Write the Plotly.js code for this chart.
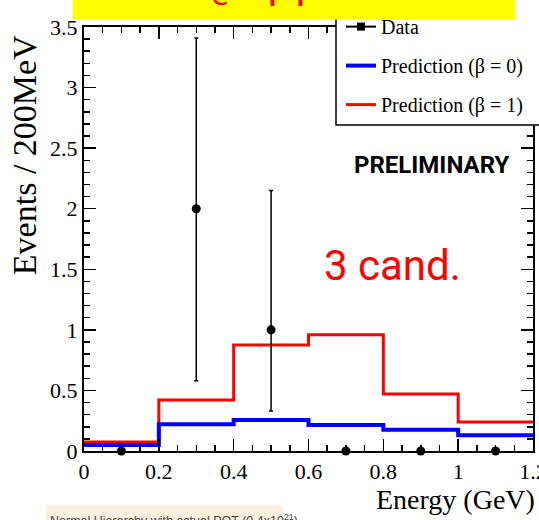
<!DOCTYPE html>
<html><head><meta charset="utf-8">
<script src="https://cdn.plot.ly/plotly-3.0.1.min.js"></script>
<style>html,body{margin:0;padding:0;background:#fff;overflow:hidden;} #chart{width:539px;height:520px;}</style>
</head><body><div id="chart"></div>
<script>
// ---- data ----
const binEdges = [0, 0.2, 0.4, 0.6, 0.8, 1.0, 1.2];
const predBeta0 = [0.05, 0.22, 0.255, 0.215, 0.175, 0.13];
const predBeta1 = [0.075, 0.42, 0.875, 0.96, 0.47, 0.24];
const dataX = [0.1, 0.3, 0.5, 0.7, 0.9, 1.1];
const dataY = [0, 2, 1, 0, 0, 0];
const dataHigh = [null, 3.41, 2.15, null, null, null];
const dataLow = [null, 0.58, 0.33, null, null, null];
const xTickVals = [0, 0.2, 0.4, 0.6, 0.8, 1, 1.2];
const xTickText = ['0', '0.2', '0.4', '0.6', '0.8', '1', '1.2'];
const yTickVals = [0, 0.5, 1, 1.5, 2, 2.5, 3, 3.5];
const yTickText = ['0', '0.5', '1', '1.5', '2', '2.5', '3', '3.5'];
const legendNames = ['Data', 'Prediction (\u03b2 = 0)', 'Prediction (\u03b2 = 1)'];
const yTitle = 'Events / 200MeV';
const xTitle = 'Energy (GeV)';
const bannerText = '\u03bd<sub>e</sub> appearance';
const prelimText = 'PRELIMINARY';
const candText = '3 cand.';
const footText = 'Normal Hierarchy with actual POT (0.4x10<sup>21</sup>)';

// ---- build traces ----
function stepY(v) { return v.concat([v[v.length - 1]]); }
const errPlus = dataY.map((y, i) => dataHigh[i] === null ? null : dataHigh[i] - y);
const errMinus = dataY.map((y, i) => dataLow[i] === null ? null : y - dataLow[i]);

const serif = 'Liberation Serif, Times New Roman, serif';

const traces = [
  {x: binEdges, y: stepY(predBeta1), type: 'scatter', mode: 'lines', line: {shape: 'hv', color: '#ff0000', width: 3},
   name: legendNames[2], legendgroup: 'c', legendrank: 3},
  {x: binEdges, y: stepY(predBeta0), type: 'scatter', mode: 'lines', line: {shape: 'hv', color: '#0000ff', width: 4},
   name: legendNames[1], legendgroup: 'b', legendrank: 2},
  {x: dataX, y: dataY, type: 'scatter', mode: 'markers', cliponaxis: false,
   marker: {color: '#000', size: 9, symbol: 'circle'},
   error_y: {type: 'data', symmetric: false, array: errPlus, arrayminus: errMinus, color: '#000', thickness: 1.5, width: 2},
   showlegend: false},
  {x: [null], y: [null], type: 'scatter', mode: 'lines+markers', line: {color: '#000', width: 2},
   marker: {color: '#000', size: 8, symbol: 'square'}, name: legendNames[0], legendgroup: 'a', legendrank: 1}
];

const axisCommon = {
  showgrid: false, zeroline: false, showline: true, linecolor: '#000', linewidth: 2,
  mirror: 'ticks', ticks: 'inside', ticklen: 12, tickwidth: 1.5, tickcolor: '#000',
  tickfont: {family: serif, size: 22, color: '#000'}, tickmode: 'array', ticklabeloverflow: 'allow'
};

const px = X => (X - 84) / 449;
const py = Y => (450.5 - Y) / 423.5;

const layout = {
  width: 539, height: 520,
  margin: {l: 84, r: 6, t: 27, b: 69},
  paper_bgcolor: '#fff', plot_bgcolor: '#fff',
  showlegend: true,
  legend: {x: px(341), xanchor: 'left', y: py(124), yanchor: 'bottom', bgcolor: 'rgba(0,0,0,0)', borderwidth: 0,
           font: {family: serif, size: 20, color: '#000'}, traceorder: 'grouped', tracegroupgap: 10},
  xaxis: Object.assign({}, axisCommon, {range: [0, 1.2], tickvals: xTickVals, ticktext: xTickText,
           minor: {tickmode: 'linear', tick0: 0, dtick: 0.05, ticklen: 6, tickwidth: 1.5, tickcolor: '#000', ticks: 'inside'}}),
  yaxis: Object.assign({}, axisCommon, {range: [0, 3.5], tickvals: yTickVals, ticktext: yTickText,
           minor: {tickmode: 'linear', tick0: 0, dtick: 0.1, ticklen: 6, tickwidth: 1.5, tickcolor: '#000', ticks: 'inside'}}),
  shapes: [
    // legend frame (extends past the right edge as in the reference)
    {type: 'rect', xref: 'paper', yref: 'paper', x0: px(336), x1: px(560), y0: py(125), y1: py(-10),
     fillcolor: '#fff', line: {color: '#000', width: 1.5}, layer: 'above'},
    // footer box
    {type: 'rect', xref: 'paper', yref: 'paper', x0: px(46), x1: px(283), y0: py(530), y1: py(505),
     fillcolor: '#fdf0de', line: {width: 0}, layer: 'above'}
  ],
  annotations: [
    {xref: 'paper', yref: 'paper', x: px(294), y: py(20), xanchor: 'center', yanchor: 'bottom',
     text: ' ', width: 442, height: 20, bgcolor: '#ffff00', borderpad: 0, showarrow: false},
    {xref: 'paper', yref: 'paper', x: px(184), y: py(16), xanchor: 'left', yanchor: 'bottom',
     text: bannerText, font: {family: 'Open Sans, sans-serif', size: 46, color: '#ff0000'}, showarrow: false},
    {xref: 'paper', yref: 'paper', x: px(431), y: py(165), xanchor: 'center', yanchor: 'middle',
     text: prelimText, font: {family: 'Roboto, sans-serif', size: 24, color: '#000', weight: 'bold'}, showarrow: false},
    {xref: 'paper', yref: 'paper', x: px(392), y: py(265), xanchor: 'center', yanchor: 'middle',
     text: candText, font: {family: 'Roboto, sans-serif', size: 42, color: '#ff0000'}, showarrow: false},
    {xref: 'paper', yref: 'paper', x: px(24), y: py(155), xanchor: 'center', yanchor: 'middle',
     text: yTitle, textangle: -90, font: {family: serif, size: 34, color: '#000'}, showarrow: false},
    {xref: 'paper', yref: 'paper', x: px(537), y: py(499), xanchor: 'right', yanchor: 'middle',
     text: xTitle, font: {family: serif, size: 28, color: '#000'}, showarrow: false},
    {xref: 'paper', yref: 'paper', x: px(48), y: py(509), xanchor: 'left', yanchor: 'top',
     text: footText, font: {family: 'Liberation Sans, Arial, sans-serif', size: 12.5, color: '#444'}, showarrow: false}
  ]
};

Plotly.newPlot('chart', traces, layout, {displayModeBar: false, staticPlot: true});
</script>
</body></html>
